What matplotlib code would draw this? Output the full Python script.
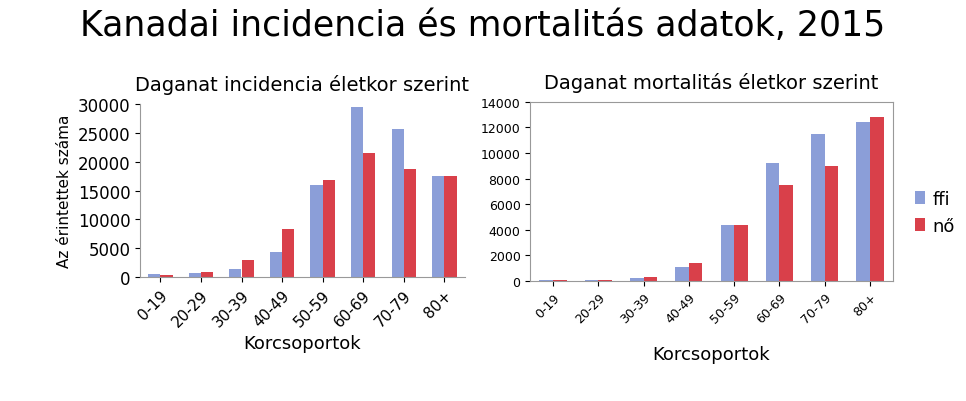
import matplotlib.pyplot as plt
import numpy as np

categories = ["0-19", "20-29", "30-39", "40-49", "50-59", "60-69", "70-79", "80+"]
inc_ffi = [500, 700, 1500, 4300, 16000, 29500, 25700, 17500]
inc_no = [400, 900, 3000, 8400, 16800, 21500, 18700, 17500]
mort_ffi = [40, 60, 200, 1100, 4400, 9200, 11500, 12400]
mort_no = [30, 50, 300, 1400, 4400, 7500, 9000, 12800]

blue = "#8b9ed8"
red = "#d9404a"

fig = plt.figure(figsize=(9.66, 4.02), dpi=100)
fig.text(0.5, 0.935, "Kanadai incidencia és mortalitás adatok, 2015", ha="center", va="center", fontsize=25)

x = np.arange(len(categories))
w = 0.3

ax1 = fig.add_axes([0.145, 0.308, 0.336, 0.431])
ax1.bar(x - w/2, inc_ffi, w, color=blue)
ax1.bar(x + w/2, inc_no, w, color=red)
ax1.set_ylim(0, 30000)
ax1.set_yticks(range(0, 30001, 5000))
ax1.set_xticks(x)
ax1.set_xticklabels(categories, rotation=45, ha="right", rotation_mode="anchor", fontsize=11)
ax1.tick_params(axis="y", labelsize=12)
ax1.set_xlim(-0.5, 7.5)
ax1.set_title("Daganat incidencia életkor szerint", fontsize=14, pad=10)
ax1.set_ylabel("Az érintettek száma", fontsize=11)
ax1.set_xlabel("Korcsoportok", fontsize=13)
for s in ["top", "right"]:
    ax1.spines[s].set_visible(False)
for s in ["left", "bottom"]:
    ax1.spines[s].set_color("#999999")

ax2 = fig.add_axes([0.549, 0.299, 0.375, 0.445])
b1 = ax2.bar(x - w/2, mort_ffi, w, color=blue, label="ffi")
b2 = ax2.bar(x + w/2, mort_no, w, color=red, label="nő")
ax2.set_ylim(0, 14000)
ax2.set_yticks(range(0, 14001, 2000))
ax2.set_xticks(x)
ax2.set_xticklabels(categories, rotation=45, ha="right", rotation_mode="anchor", fontsize=9)
ax2.tick_params(axis="y", labelsize=9)
ax2.set_xlim(-0.5, 7.5)
ax2.set_title("Daganat mortalitás életkor szerint", fontsize=14, pad=10)
ax2.set_xlabel("Korcsoportok", fontsize=13, labelpad=14)
for s in ax2.spines.values():
    s.set_color("#999999")
fig.legend(handles=[b1, b2], loc="center left", bbox_to_anchor=(0.93, 0.47), frameon=False,
           fontsize=13, handlelength=0.6, handletextpad=0.4)

fig.savefig("out.png", dpi=100)
